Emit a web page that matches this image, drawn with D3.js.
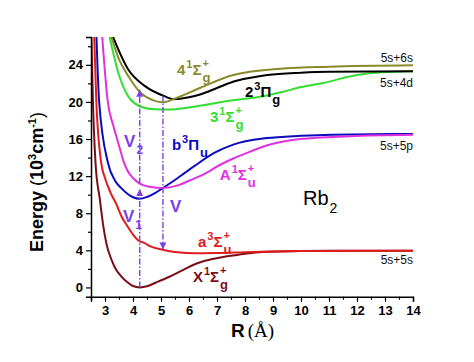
<!DOCTYPE html>
<html>
<head>
<meta charset="utf-8">
<script src="https://cdn.jsdelivr.net/npm/d3@7"></script>
<style>
  body { margin: 0; background: #fff; }
  svg { display: block; font-family: "Liberation Sans", Arial, sans-serif; }
</style>
</head>
<body>
<div class="chart"></div>
<script>
// potential curves of Rb2: R in Å, energy in 10^3 cm-1
const curveNames = ['X', 'a', 'b', 'A', 'g3', 'pi', 'g4']
const curveColors = ['#7a0d18', '#e01b1b', '#0a0ac0', '#e030e0', '#33dd33', '#000000', '#8b8a2a']

const xR = [2.51, 2.57, 2.66, 2.82, 2.93, 3.06, 3.23, 3.4, 3.58, 3.8, 4.0, 4.24, 4.5, 4.8, 5.26, 5.8, 6.3, 6.9, 7.7, 8.5, 10, 12, 14]
const xE = [27.5, 20.0, 13.5, 9.4, 6.8, 4.6, 3.0, 1.9, 1.2, 0.55, 0.15, 0, 0.12, 0.5, 1.1, 1.9, 2.6, 3.1, 3.5, 3.8, 3.92, 3.95, 3.96]

const aR = [2.61, 2.69, 2.86, 3.0, 3.2, 3.4, 3.6, 3.8, 4.0, 4.24, 4.4, 4.6, 5.07, 5.6, 6.2, 7.0, 8.0, 10, 14]
const aE = [27.5, 20.07, 13.5, 11.8, 10.2, 9.0, 7.6, 6.6, 5.7, 4.96, 4.8, 4.45, 4.07, 3.78, 3.68, 3.7, 3.8, 3.92, 3.96]

const bR = [2.69, 2.79, 3.1, 3.36, 3.58, 3.8, 4.0, 4.24, 4.5, 4.8, 5.07, 5.6, 6.2, 6.9, 7.58, 8.77, 10, 11.1, 14]
const bE = [27.5, 20.07, 13.5, 11.5, 10.7, 10.1, 9.72, 9.55, 9.75, 10.2, 10.72, 11.8, 13.1, 14.5, 15.4, 16.1, 16.35, 16.47, 16.55]

const AR = [2.89, 3.1, 3.3, 3.5, 3.65, 3.8, 4.0, 4.24, 4.6, 5.07, 5.6, 6.0, 6.5, 7.1, 7.58, 8.06, 8.77, 9.96, 11.75, 14]
const AE = [27.5, 20.0, 17.4, 15.3, 13.7, 12.6, 11.8, 11.2, 10.85, 10.72, 11.0, 11.5, 12.16, 13.2, 13.9, 14.5, 15.3, 16.0, 16.3, 16.45]

const g3R = [3.13, 3.48, 3.83, 4.31, 4.8, 5.26, 6.0, 6.81, 7.5, 8.18, 8.8, 9.37, 10.0, 10.8, 12.0, 12.9, 14]
const g3E = [27.5, 23.1, 20.6, 19.46, 19.2, 19.17, 19.4, 19.8, 20.15, 20.4, 20.7, 21.1, 21.6, 22.05, 22.9, 23.2, 23.3]

const piR = [3.22, 3.83, 4.43, 5.14, 5.44, 6.0, 6.4, 7.0, 7.6, 8.2, 8.8, 10, 11, 14]
const piE = [27.5, 23.5, 21.7, 20.6, 20.3, 20.5, 20.8, 21.5, 22.2, 22.6, 22.9, 23.15, 23.25, 23.3]

const g4R = [3.18, 3.5, 3.83, 4.3, 4.73, 5.08, 5.44, 6.39, 7.58, 9.37, 11, 14]
const g4E = [27.5, 24.6, 22.8, 20.9, 20.17, 19.96, 20.3, 21.5, 22.9, 23.6, 23.8, 23.95]

const curveR = [xR, aR, bR, AR, g3R, piR, g4R]
const curveE = [xE, aE, bE, AE, g3E, piE, g4E]

// vertical transitions (R, from E, to E)
const arrowR = [4.24, 4.24, 5.07]
const arrowFrom = [0, 11.2, 20.7]
const arrowTo = [10.6, 21.3, 4.1]

const xTicks = [3, 4, 5, 6, 7, 8, 9, 10, 11, 12, 13, 14]
const xMinor = [2.5, 3.5, 4.5, 5.5, 6.5, 7.5, 8.5, 9.5, 10.5, 11.5, 12.5, 13.5]
const yTicks = [0, 4, 8, 12, 16, 20, 24]
const yMinor = [2, 6, 10, 14, 18, 22, 26]

// state labels: lead, sup, symbol, sub, sup2, R, E, color
const stateLabels = [
  ['4', '1', 'Σ', 'g', '+', 5.57, 22.9, '#8b8a2a'],
  ['2', '3', 'Π', 'g', '', 8.0, 20.5, '#000000'],
  ['3', '1', 'Σ', 'g', '+', 6.75, 17.8, '#33dd33'],
  ['b', '3', 'Π', 'u', '', 5.39, 14.8, '#0a0ac0'],
  ['A', '1', 'Σ', 'u', '+', 7.1, 11.6, '#e030e0'],
  ['a', '3', 'Σ', 'u', '+', 6.32, 4.35, '#e01b1b'],
  ['X', '1', 'Σ', 'g', '+', 6.14, 0.58, '#7a0d18']
]
const limitNames = ['5s+6s', '5s+4d', '5s+5p', '5s+5s']
const limitE = [24.3, 21.6, 14.8, 2.52]

const W = 474, H = 362
const svg = d3.select('.chart').append('svg').attr('width', W).attr('height', H)

const x = d3.scaleLinear().domain([2.5, 14]).range([91, 413])
const y = d3.scaleLinear().domain([-1, 27]).range([296.7, 37])

svg.append('clipPath').attr('id', 'plot')
  .append('rect').attr('x', 91).attr('y', 37).attr('width', 322).attr('height', 259.7)

const line = d3.line().x(d => x(d[0])).y(d => y(d[1])).curve(d3.curveMonotoneX)

const curves = svg.append('g').attr('clip-path', 'url(#plot)')
curveNames.forEach((n, i) => {
  const pts = curveR[i].map((r, j) => [r, curveE[i][j]])
  curves.append('path').datum(pts)
    .attr('d', line)
    .attr('fill', 'none')
    .attr('stroke', curveColors[i])
    .attr('stroke-width', 2)
})

// arrows
const purple = '#7b3fe6'
const defs = svg.append('defs')
defs.append('marker').attr('id', 'head')
  .attr('viewBox', '0 0 10 10').attr('refX', 10).attr('refY', 5)
  .attr('markerWidth', 7).attr('markerHeight', 7).attr('markerUnits', 'userSpaceOnUse')
  .attr('orient', 'auto')
  .append('path').attr('d', 'M0,0L10,5L0,10Z').attr('fill', purple)

arrowR.forEach((r, i) => {
  svg.append('line')
    .attr('x1', x(r)).attr('x2', x(r))
    .attr('y1', y(arrowFrom[i])).attr('y2', y(arrowTo[i]))
    .attr('stroke', purple).attr('stroke-width', 1.4)
    .attr('stroke-dasharray', '6,2,1.5,2')
    .attr('marker-end', 'url(#head)')
})

// axes
const xAxis = svg.append('g').attr('transform', `translate(0,${y(-1)})`)
  .call(d3.axisBottom(x).tickValues(xTicks).tickSize(5).tickPadding(4).tickFormat(d3.format('d')))
xAxis.append('g').call(d3.axisBottom(x).tickValues(xMinor).tickSize(3).tickFormat(''))
const yAxis = svg.append('g').attr('transform', `translate(${x(2.5)},0)`)
  .call(d3.axisLeft(y).tickValues(yTicks).tickSize(5).tickPadding(3).tickFormat(d3.format('d')))
yAxis.append('g').call(d3.axisLeft(y).tickValues(yMinor).tickSize(3).tickFormat(''))

svg.selectAll('.domain').attr('stroke', '#000').attr('stroke-width', 1.5)
svg.selectAll('.tick line').attr('stroke', '#000').attr('stroke-width', 1.2)
svg.selectAll('.tick text').attr('font-size', 13).attr('font-weight', 'bold')
  .attr('font-family', '"Liberation Sans", Arial, sans-serif').attr('fill', '#000')
svg.selectAll('g > g > .domain').remove()

// axis titles
const yt = svg.append('text')
  .attr('transform', 'translate(43,182) rotate(-90)')
  .attr('text-anchor', 'middle').attr('font-size', 18).attr('font-weight', 'bold')
yt.append('tspan').text('Energy ')
yt.append('tspan').attr('font-weight', 'normal').text('(')
yt.append('tspan').text('10')
yt.append('tspan').attr('font-size', 11).attr('dy', -7).text('3')
yt.append('tspan').attr('dy', 7).text('cm')
yt.append('tspan').attr('font-size', 11).attr('dy', -7).text('-1')
yt.append('tspan').attr('dy', 7).attr('font-weight', 'normal').text(')')

const xt = svg.append('text').attr('x', 231).attr('y', 337).attr('font-size', 19)
xt.append('tspan').attr('font-weight', 'bold').text('R')
xt.append('tspan').attr('dx', 3).attr('font-family', '"Liberation Serif", "Times New Roman", serif').text('(Å)')

// state labels, sub and sup stacked after the symbol
stateLabels.forEach(s => {
  const [lead, sup, sym, sub, sup2, r, e, col] = s
  const x0 = x(r), y0 = y(e)
  const t = svg.append('text').attr('x', x0).attr('y', y0)
    .attr('fill', col).attr('font-size', 15).attr('font-weight', 'bold')
  t.append('tspan').text(lead)
  t.append('tspan').attr('font-size', 11).attr('dy', -7).attr('dx', 1).text(sup)
  t.append('tspan').attr('dy', 7).text(sym)
  const w = t.node().getComputedTextLength() + 2
  t.append('tspan').attr('x', x0 + w).attr('y', y0 + 7).attr('font-size', 13).text(sub)
  if (sup2) t.append('tspan').attr('x', x0 + w).attr('y', y0 - 8).attr('font-size', 11).text(sup2)
})

limitNames.forEach((n, i) => {
  svg.append('text').attr('x', x(14)).attr('y', y(limitE[i]))
    .attr('text-anchor', 'end').attr('font-size', 12).attr('fill', '#111').text(n)
})

// molecule
const rb = svg.append('text').attr('x', x(10.07)).attr('y', y(8.88)).attr('font-size', 20)
rb.append('tspan').text('Rb')
rb.append('tspan').attr('font-size', 14).attr('dy', 8).attr('dx', 1).text('2')

// transition labels
const vLabels = [['V', '1', 3.64, 7.05], ['V', '2', 3.68, 15.1], ['V', '', 5.32, 8.1]]
vLabels.forEach(v => {
  const t = svg.append('text').attr('x', x(v[2])).attr('y', y(v[3]))
    .attr('fill', purple).attr('font-size', 17).attr('font-weight', 'bold')
  t.append('tspan').text(v[0])
  if (v[1]) t.append('tspan').attr('font-size', 12).attr('dy', 7).attr('dx', 1).text(v[1])
})
</script>
</body>
</html>
